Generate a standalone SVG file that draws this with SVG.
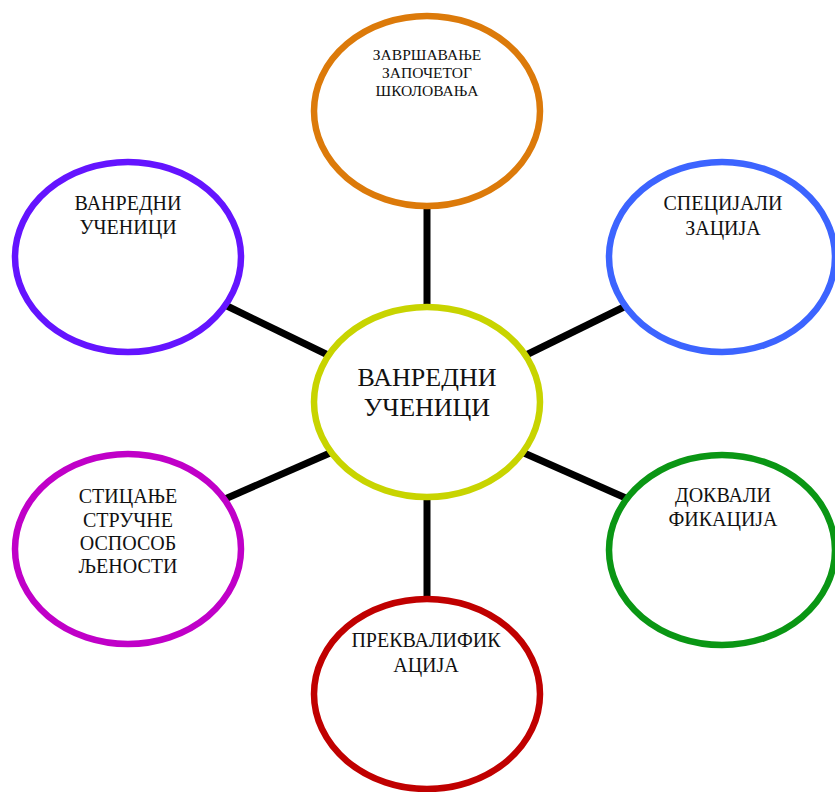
<svg xmlns="http://www.w3.org/2000/svg" width="835" height="792" viewBox="0 0 835 792">
<style>
.n{fill:#fff;stroke-width:6.5}
.t{font-family:"Liberation Serif","Times New Roman",serif;fill:#111;text-anchor:middle}
.s{font-size:20px}
.c line{stroke:#000;stroke-width:7}
</style>
<rect width="835" height="792" fill="#fff"/>
<g id="connectors" class="c">
<line x1="427" y1="205" x2="427" y2="310"/>
<line x1="427" y1="495" x2="427" y2="600"/>
<line x1="225" y1="305" x2="330" y2="356"/>
<line x1="524" y1="356" x2="628" y2="305"/>
<line x1="225" y1="499" x2="330" y2="453"/>
<line x1="524" y1="453" x2="628" y2="499"/>
</g>
<g id="center">
<ellipse class="n" cx="427" cy="402" rx="113" ry="95" stroke="#C8D400"/>
<text class="t" x="427" y="386" font-size="26">ВАНРЕДНИ</text>
<text class="t" x="427" y="416" font-size="26">УЧЕНИЦИ</text>
</g>
<g id="top">
<ellipse class="n" cx="427" cy="111" rx="113" ry="95" stroke="#DC7A0A"/>
<text class="t" x="427" y="60" font-size="15.5">ЗАВРШАВАЊЕ</text>
<text class="t" x="427" y="78" font-size="15.5">ЗАПОЧЕТОГ</text>
<text class="t" x="427" y="96" font-size="15.5">ШКОЛОВАЊА</text>
</g>
<g id="upper-left">
<ellipse class="n" cx="128" cy="257" rx="113" ry="95" stroke="#6414FF"/>
<text class="t s" x="128" y="210">ВАНРЕДНИ</text>
<text class="t s" x="128" y="234">УЧЕНИЦИ</text>
</g>
<g id="upper-right">
<ellipse class="n" cx="722" cy="257" rx="113" ry="95" stroke="#3C64FF"/>
<text class="t s" x="723" y="210">СПЕЦИЈАЛИ</text>
<text class="t s" x="723" y="235">ЗАЦИЈА</text>
</g>
<g id="lower-left">
<ellipse class="n" cx="128" cy="549" rx="113" ry="95" stroke="#C000C8"/>
<text class="t s" x="128" y="503">СТИЦАЊЕ</text>
<text class="t s" x="128" y="527">СТРУЧНЕ</text>
<text class="t s" x="128" y="550">ОСПОСОБ</text>
<text class="t s" x="128" y="573">ЉЕНОСТИ</text>
</g>
<g id="lower-right">
<ellipse class="n" cx="722" cy="550" rx="113" ry="95" stroke="#0A9614"/>
<text class="t s" x="723" y="502">ДОКВАЛИ</text>
<text class="t s" x="723" y="526">ФИКАЦИЈА</text>
</g>
<g id="bottom">
<ellipse class="n" cx="427" cy="694" rx="113" ry="95" stroke="#C00000"/>
<text class="t s" x="426" y="647">ПРЕКВАЛИФИК</text>
<text class="t s" x="426" y="672">АЦИЈА</text>
</g>
</svg>
